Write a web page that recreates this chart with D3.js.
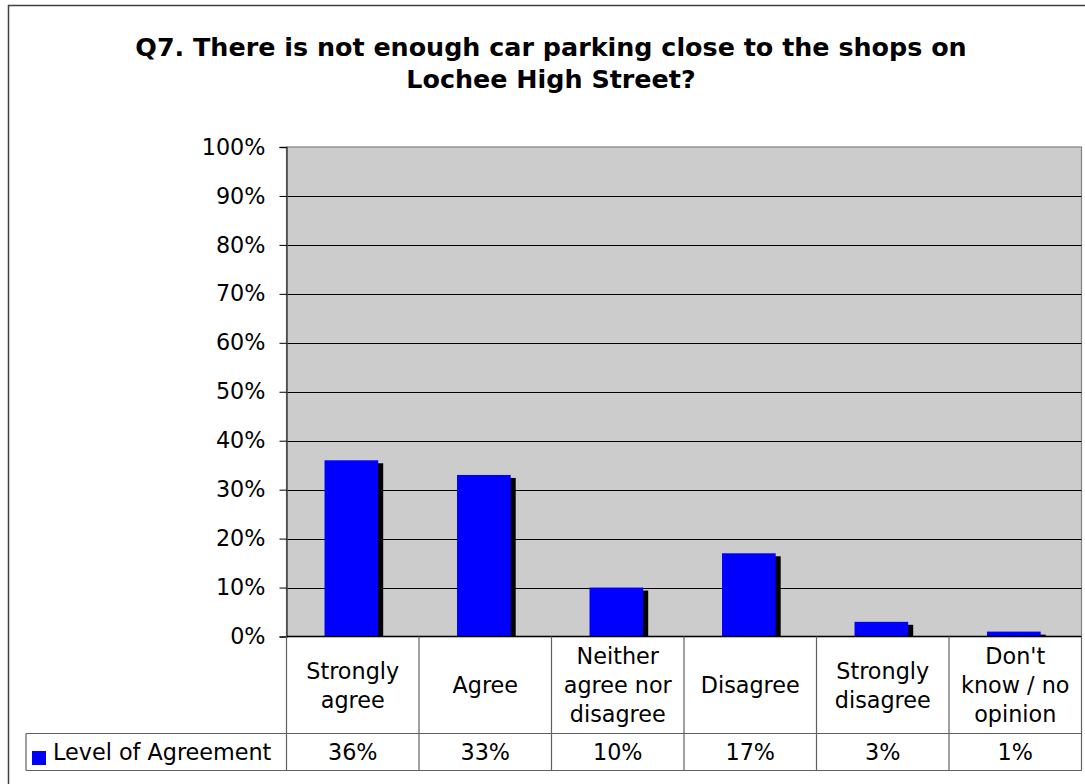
<!DOCTYPE html>
<html>
<head>
<meta charset="utf-8">
<script src="https://cdn.jsdelivr.net/npm/d3@7"></script>
<style>
  html, body { margin: 0; padding: 0; background: #fff; }
  svg { display: block; font-family: "DejaVu Sans", Verdana, sans-serif; }
</style>
</head>
<body>
<svg id="chart" width="1085" height="784"></svg>
<script>
// Survey responses for Q7
const titleLines = [
  "Q7. There is not enough car parking close to the shops on",
  "Lochee High Street?"
];
const categories = [
  ["Strongly", "agree"],
  ["Agree"],
  ["Neither", "agree nor", "disagree"],
  ["Disagree"],
  ["Strongly", "disagree"],
  ["Don't", "know / no", "opinion"]
];
const values = [36, 33, 10, 17, 3, 1];
const seriesName = "Level of Agreement";
const yTicks = [0, 10, 20, 30, 40, 50, 60, 70, 80, 90, 100];

const svg = d3.select("#chart");

// layout
const plot = { left: 286.5, right: 1081.5, top: 147, bottom: 636.5 };
const tableRow1 = 733.5, tableRow2 = 770.5, legendLeft = 26;
const fontSize = 22.3;

// outer frame
svg.append("rect")
  .attr("x", 8.5).attr("y", 5.5)
  .attr("width", 1100).attr("height", 820)
  .attr("fill", "#fff").attr("stroke", "#404040").attr("stroke-width", 1.5);

// title
svg.append("g").selectAll("text").data(titleLines).join("text")
  .attr("x", 551).attr("y", (d, i) => 56 + i * 32)
  .attr("text-anchor", "middle")
  .attr("font-weight", "bold").attr("font-size", 25.4)
  .text(d => d);

const idx = d3.range(categories.length);
const x = d3.scaleBand().domain(idx).range([plot.left, plot.right]).padding(0);
const y = d3.scaleLinear().domain([0, 100]).range([plot.bottom, plot.top]);

// plot background
svg.append("rect")
  .attr("x", plot.left).attr("y", plot.top)
  .attr("width", plot.right - plot.left).attr("height", plot.bottom - plot.top)
  .attr("fill", "#cccccc").attr("stroke", "#808080").attr("stroke-width", 1.2);

// gridlines
svg.append("g").selectAll("line").data(yTicks.filter(t => t > 0 && t < 100)).join("line")
  .attr("x1", plot.left).attr("x2", plot.right)
  .attr("y1", d => Math.round(y(d)) + 0.5).attr("y2", d => Math.round(y(d)) + 0.5)
  .attr("stroke", "#000").attr("stroke-width", 1);

// y axis
const yAxis = d3.axisLeft(y).tickValues(yTicks).tickFormat(d => d + "%").tickSize(7).tickPadding(14);
const gy = svg.append("g").attr("transform", `translate(${plot.left},0)`).call(yAxis);
gy.select(".domain").attr("stroke", "#404040").attr("stroke-width", 1.5);
gy.selectAll(".tick line").attr("stroke", "#000");
gy.selectAll("text").attr("font-size", fontSize).attr("fill", "#000")
  .attr("font-family", "DejaVu Sans, Verdana, sans-serif");

// bars with offset shadow
const barW = x.bandwidth() * 0.405;
const barOff = x.bandwidth() * 0.287;
const bars = svg.append("g");
bars.selectAll("rect.shadow").data(values).join("rect").attr("class", "shadow")
  .attr("x", (d, i) => x(i) + barOff + 5)
  .attr("y", d => y(d) + 3)
  .attr("width", barW)
  .attr("height", d => Math.max(0, plot.bottom - y(d) - 3))
  .attr("fill", "#000");
bars.selectAll("rect.bar").data(values).join("rect").attr("class", "bar")
  .attr("x", (d, i) => x(i) + barOff)
  .attr("y", d => y(d))
  .attr("width", barW)
  .attr("height", d => plot.bottom - y(d))
  .attr("fill", "#0000ff");

// baseline
svg.append("line")
  .attr("x1", plot.left).attr("x2", plot.right)
  .attr("y1", plot.bottom).attr("y2", plot.bottom)
  .attr("stroke", "#000").attr("stroke-width", 1.5);

// data table
const tbl = svg.append("g").attr("stroke", "#606060").attr("stroke-width", 1.2);
tbl.append("line").attr("x1", legendLeft).attr("x2", plot.right).attr("y1", tableRow1).attr("y2", tableRow1);
tbl.append("line").attr("x1", legendLeft).attr("x2", plot.right).attr("y1", tableRow2).attr("y2", tableRow2);
tbl.append("line").attr("x1", legendLeft).attr("x2", legendLeft).attr("y1", tableRow1).attr("y2", tableRow2);
tbl.selectAll("line.col").data(idx.concat([idx.length])).join("line").attr("class", "col")
  .attr("x1", i => i < idx.length ? x(i) : plot.right)
  .attr("x2", i => i < idx.length ? x(i) : plot.right)
  .attr("y1", plot.bottom).attr("y2", tableRow2);

// category labels
const lineH = 29;
const rowMid = (plot.bottom + tableRow1) / 2;
const catG = svg.append("g").attr("font-size", fontSize).attr("text-anchor", "middle");
categories.forEach((lines, i) => {
  const cx = x(i) + x.bandwidth() / 2;
  const y0 = rowMid - (lines.length - 1) * lineH / 2;
  catG.append("text")
    .selectAll("tspan").data(lines).join("tspan")
    .attr("x", cx).attr("y", (d, k) => y0 + k * lineH)
    .attr("dy", "0.36em")
    .text(d => d);
});

// value row
const valMid = (tableRow1 + tableRow2) / 2;
svg.append("g").attr("font-size", fontSize).attr("text-anchor", "middle")
  .selectAll("text").data(values).join("text")
  .attr("x", (d, i) => x(i) + x.bandwidth() / 2)
  .attr("y", valMid).attr("dy", "0.36em")
  .text(d => d + "%");

// legend key
svg.append("rect")
  .attr("x", 32).attr("y", 751).attr("width", 14).attr("height", 14)
  .attr("fill", "#0000ff");
svg.append("text")
  .attr("x", 53).attr("y", valMid).attr("dy", "0.36em")
  .attr("font-size", fontSize)
  .text(seriesName);
</script>
</body>
</html>
